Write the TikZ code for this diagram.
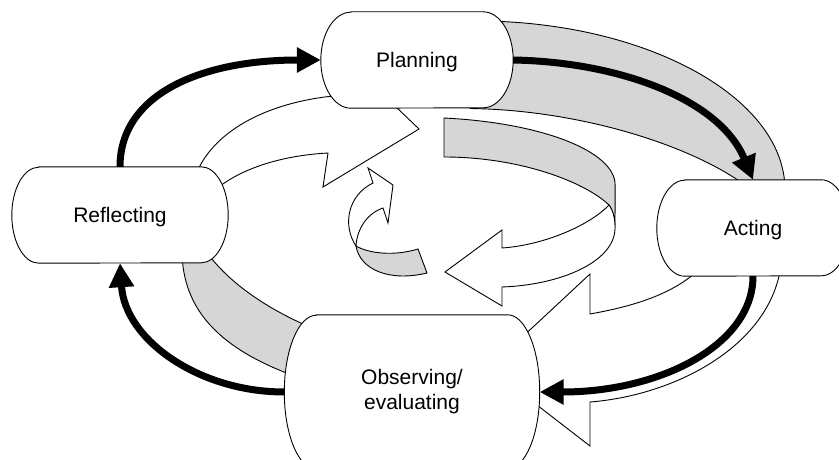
\documentclass[tikz,border=0pt]{standalone}
\usepackage{fontspec}
\setmainfont{Liberation Sans}
\usetikzlibrary{arrows.meta}

\pgfdeclarelayer{ribbon}
\pgfdeclarelayer{boxes}
\pgfsetlayers{ribbon,boxes,main}

\definecolor{bandgray}{RGB}{214,214,214}

\tikzset{
  stage/.style={shape=rectangle, inner sep=0pt, align=center,
                font=\fontsize{21}{25}\selectfont},
  oneline/.style={text depth=0pt},
  outline/.style={draw=black, line width=0.9pt, fill=white},
  band/.style={draw=black, line width=0.9pt, fill=bandgray},
  sheet/.style={draw=black, line width=0.9pt, fill=white},
  flow/.style={line width=7pt, -{Triangle[length=24pt,width=24pt]}},
}

% box with flat top and bottom and half-elliptic ends
\newcommand{\stadiumbox}[3]{%
  \path[outline] ([xshift=#2]#1.north west) -- ([xshift=-#2]#1.north east)
    arc[start angle=90, end angle=-90, x radius=#2, y radius=#3]
    -- ([xshift=#2]#1.south west)
    arc[start angle=270, end angle=90, x radius=#2, y radius=#3] -- cycle;}

\begin{document}
\begin{tikzpicture}[x=1pt, y=-1pt]
\useasboundingbox (0,0) rectangle (839,460);

% the four stages of the cycle
\node[stage, oneline, minimum width=192pt, minimum height=96pt]  (plan) at (417,60)  {Planning};
\node[stage, oneline, minimum width=192pt, minimum height=96pt]  (act)  at (753,228) {Acting};
\node[stage, minimum width=255pt, minimum height=154pt]          (obs)  at (412,392) {Observing/\\evaluating};
\node[stage, oneline, minimum width=216pt, minimum height=96pt]  (refl) at (120,215) {Reflecting};

\begin{pgfonlayer}{boxes}
  \stadiumbox{plan}{30pt}{48pt}
  \stadiumbox{act}{28pt}{48pt}
  \stadiumbox{obs}{32pt}{77pt}
  \stadiumbox{refl}{27pt}{48pt}
\end{pgfonlayer}

\begin{pgfonlayer}{ribbon}
  % outer turn of the spiral ribbon
  \path[band] (470,21) .. controls (640,19) and (785,95) .. (785,190)
    -- (785,215) -- (745,215) -- (745,185)
    .. controls (690,145) and (580,110) .. (470,108.5) -- cycle;
  \path[sheet] (782,250) .. controls (782,340) and (680,395) .. (590,402)
    -- (590,446) -- (489,368) -- (590,274) -- (590,314)
    .. controls (640,305) and (690,290) .. (715,250) -- cycle;
  \path[band] (300,378) .. controls (220,350) and (182,310) .. (182,250)
    -- (205,250) .. controls (230,285) and (270,310) .. (312,328) -- cycle;
  \path[sheet] (197,172) .. controls (215,130) and (270,100) .. (345,95)
    -- (372,84) -- (419,129) -- (323,187) -- (328,153)
    .. controls (290,155) and (245,165) .. (215,190) -- cycle;
  % inner turn
  \path[band] (444,118) arc[start angle=81.7, end angle=0, x radius=200pt, y radius=67.7pt]
    -- (615,228) .. controls (615,220) and (614,212) .. (609,205)
    .. controls (585,182) and (520,157) .. (444,157) -- cycle;
  \path[sheet] (609,205) .. controls (590,225) and (545,245) .. (502,248)
    -- (502,230) -- (445,272) -- (502,306) -- (502,287)
    .. controls (560,285) and (615,262) .. (615,228)
    .. controls (615,220) and (614,212) .. (609,205) -- cycle;
  % small curl in the middle
  \path[band] (356,246) .. controls (360,270) and (390,282) .. (427,273)
    -- (418,249) .. controls (395,256) and (370,254) .. (356,246) -- cycle;
  \path[sheet] (356,246) .. controls (342,225) and (348,195) .. (373,183)
    -- (368,168) -- (393,185) -- (388,223) -- (383,208)
    .. controls (368,213) and (357,228) .. (356,246) -- cycle;
\end{pgfonlayer}

% cycle arrows between the stages
\draw[flow] (refl.north) .. controls +(0,-72) and +(-121,0) .. (plan.west);
\draw[flow] (plan.east)  .. controls +(107,2) and +(-33,-80) .. (act.north);
\draw[flow] (act.south)  .. controls +(0,69) and +(120,0) .. (obs.east);
\draw[flow] (obs.west)   .. controls +(-85,0) and +(5,77) .. (refl.south);
\end{tikzpicture}
\end{document}
